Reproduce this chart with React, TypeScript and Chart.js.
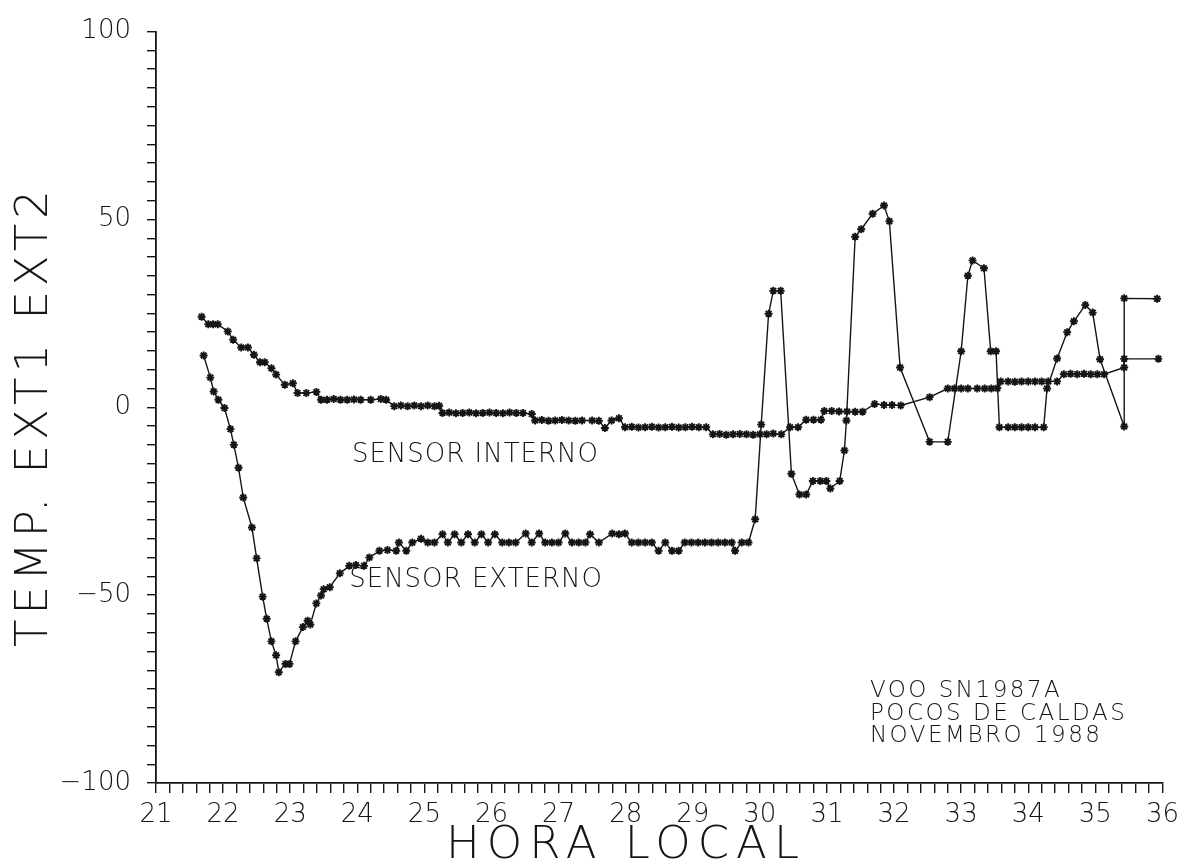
import React, { useEffect, useRef } from 'react';
import { Chart, registerables } from 'chart.js';

Chart.register(...registerables);

// ---- Data (hora local, temperatura) ----
const internoHours = [
  21.68, 21.78, 21.85, 21.92, 22.07, 22.15, 22.27, 22.37, 22.46, 22.55, 22.62, 22.72, 22.79, 22.92, 23.04,
  23.11, 23.24, 23.39, 23.46, 23.55, 23.65, 23.75, 23.85, 23.95, 24.05, 24.2, 24.35, 24.43, 24.55, 24.65,
  24.75, 24.85, 24.95, 25.05, 25.15, 25.22, 25.27, 25.37, 25.47, 25.57, 25.67, 25.77, 25.87, 25.97, 26.07,
  26.17, 26.27, 26.37, 26.47, 26.6, 26.65, 26.75, 26.85, 26.95, 27.05, 27.15, 27.25, 27.35, 27.5, 27.6,
  27.69, 27.79, 27.9, 27.99, 28.09, 28.19, 28.29, 28.39, 28.49, 28.59, 28.69, 28.79, 28.89, 28.99, 29.09,
  29.2, 29.3, 29.4, 29.5, 29.6, 29.7, 29.8, 29.9, 30.0, 30.1, 30.2, 30.32, 30.45, 30.57, 30.69,
  30.8, 30.91, 30.96, 31.07, 31.18, 31.3, 31.42, 31.53, 31.71, 31.85, 31.97, 32.1, 32.53, 32.8, 32.9,
  33.0, 33.1, 33.24, 33.35, 33.45, 33.54, 33.59, 33.7, 33.8, 33.9, 34.0, 34.1, 34.2, 34.3, 34.43,
  34.53, 34.63, 34.73, 34.83, 34.93, 35.03, 35.13, 35.43, 35.43, 35.94,
];
const internoTemps = [
  24.1, 22.1, 22.1, 22.1, 20.2, 18.0, 15.9, 15.9, 14.0, 12.0, 12.0, 10.4, 8.7, 6.0, 6.4,
  3.8, 3.8, 4.1, 2.0, 2.0, 2.2, 2.0, 2.0, 2.1, 2.0, 2.0, 2.2, 2.0, 0.3, 0.5,
  0.3, 0.5, 0.3, 0.5, 0.3, 0.4, -1.5, -1.4, -1.6, -1.5, -1.4, -1.6, -1.5, -1.4, -1.5,
  -1.6, -1.4, -1.5, -1.5, -1.8, -3.5, -3.4, -3.6, -3.5, -3.4, -3.5, -3.6, -3.5, -3.5, -3.6,
  -5.5, -3.5, -2.9, -5.3, -5.2, -5.4, -5.3, -5.2, -5.4, -5.3, -5.2, -5.4, -5.3, -5.2, -5.3,
  -5.3, -7.2, -7.1, -7.3, -7.2, -7.1, -7.2, -7.3, -7.2, -7.2, -7.0, -7.2, -5.3, -5.3, -3.3,
  -3.3, -3.3, -1.0, -1.0, -1.1, -1.1, -1.2, -1.2, 0.9, 0.6, 0.6, 0.5, 2.7, 5.0, 5.0,
  5.0, 5.0, 5.0, 5.0, 5.0, 5.1, 6.9, 6.9, 6.8, 6.9, 6.9, 6.9, 6.9, 6.9, 6.9,
  8.8, 8.9, 8.8, 8.9, 8.8, 8.8, 8.8, 10.6, 12.9, 12.9,
];

const externoHours = [
  21.71, 21.81, 21.86, 21.93, 22.02, 22.11, 22.16, 22.23, 22.3, 22.43, 22.5, 22.59, 22.65, 22.72, 22.79,
  22.83, 22.93, 22.99, 23.08, 23.19, 23.26, 23.3, 23.39, 23.46, 23.5, 23.59, 23.74, 23.88, 23.98, 24.1,
  24.18, 24.33, 24.45, 24.58, 24.62, 24.73, 24.82, 24.95, 25.05, 25.15, 25.27, 25.35, 25.45, 25.55, 25.65,
  25.75, 25.85, 25.95, 26.05, 26.16, 26.26, 26.36, 26.51, 26.6, 26.71, 26.8, 26.9, 27.0, 27.1, 27.2,
  27.3, 27.4, 27.47, 27.6, 27.8, 27.9, 27.99, 28.09, 28.19, 28.29, 28.39, 28.49, 28.59, 28.69, 28.79,
  28.88, 28.98, 29.08, 29.18, 29.28, 29.38, 29.48, 29.58, 29.63, 29.73, 29.83, 29.93, 30.02, 30.13, 30.2,
  30.31, 30.47, 30.59, 30.69, 30.79, 30.9, 30.99, 31.05, 31.19, 31.26, 31.29, 31.42, 31.51, 31.68, 31.85,
  31.93, 32.09, 32.53, 32.8, 33.0, 33.1, 33.17, 33.34, 33.44, 33.52, 33.57, 33.7, 33.8, 33.9, 34.0,
  34.1, 34.23, 34.28, 34.43, 34.58, 34.68, 34.85, 34.96, 35.07, 35.43, 35.43, 35.92,
];
const externoTemps = [
  13.8, 7.9, 4.2, 2.0, -0.2, -5.8, -10.0, -16.1, -24.0, -32.0, -40.2, -50.4, -56.3, -62.3, -66.0,
  -70.5, -68.3, -68.3, -62.3, -58.5, -56.8, -57.8, -52.2, -50.1, -48.4, -47.9, -44.2, -42.2, -42.0, -42.2,
  -40.0, -38.2, -38.0, -38.2, -36.0, -38.2, -36.0, -35.0, -36.0, -36.0, -33.8, -36.0, -33.8, -36.0, -33.8,
  -36.0, -33.8, -36.0, -33.8, -36.0, -36.0, -36.0, -33.6, -36.0, -33.6, -36.0, -36.0, -36.0, -33.6, -36.0,
  -36.0, -36.0, -33.8, -36.0, -33.6, -33.8, -33.6, -36.0, -36.0, -36.0, -36.0, -38.2, -36.0, -38.2, -38.2,
  -36.0, -36.0, -36.0, -36.0, -36.0, -36.0, -36.0, -36.0, -38.2, -36.0, -36.0, -29.8, -4.6, 24.9, 31.0,
  31.0, -17.7, -23.2, -23.2, -19.6, -19.6, -19.6, -21.6, -19.6, -11.5, -3.5, 45.4, 47.4, 51.5, 53.7,
  49.5, 10.6, -9.2, -9.2, 14.9, 35.0, 39.1, 37.0, 14.9, 14.9, -5.3, -5.3, -5.3, -5.3, -5.3,
  -5.3, -5.3, 5.0, 13.0, 20.0, 22.9, 27.2, 25.2, 12.8, -5.1, 29.0, 28.9,
];

const xMin = 21;
const xMax = 36;
const yMin = -100;
const yMax = 100;
const yLabelValues = [-100, -50, 0, 50, 100];

const xTitle = 'HORA LOCAL';
const yTitle = 'TEMP. EXT1 EXT2';
const labelInterno = 'SENSOR INTERNO';
const labelExterno = 'SENSOR EXTERNO';
const infoLines = ['VOO SN1987A', 'POCOS DE CALDAS', 'NOVEMBRO 1988'];

const FONT = "'DejaVu Sans', 'Liberation Sans', sans-serif";
const INK = '#151515';

function toPoints(xs: number[], ys: number[]) {
  return xs.map((x, i) => ({ x, y: ys[i] }));
}

const textPlugin = {
  id: 'textAnnotations',
  beforeDraw(chart: any) {
    const { ctx } = chart;
    ctx.save();
    ctx.fillStyle = '#ffffff';
    ctx.fillRect(0, 0, chart.width, chart.height);
    ctx.restore();
  },
  afterDraw(chart: any) {
    const { ctx } = chart;
    const xs = chart.scales.x;
    const ys = chart.scales.y;
    ctx.save();
    ctx.fillStyle = INK;
    ctx.textBaseline = 'middle';

    // in-plot labels
    ctx.textAlign = 'left';
    ctx.font = `300 26px ${FONT}`;
    (ctx as any).letterSpacing = '1px';
    ctx.fillText(labelInterno, xs.getPixelForValue(23.92), ys.getPixelForValue(-12.8));
    ctx.fillText(labelExterno, xs.getPixelForValue(23.88), ys.getPixelForValue(-46));

    ctx.font = `300 23px ${FONT}`;
    (ctx as any).letterSpacing = '2.5px';
    const lineYs = [-75.6, -81.6, -87.5];
    infoLines.forEach((t, i) => {
      ctx.fillText(t, xs.getPixelForValue(31.64), ys.getPixelForValue(lineYs[i]));
    });

    // axis titles
    ctx.textAlign = 'center';
    ctx.font = `300 45px ${FONT}`;
    (ctx as any).letterSpacing = '7px';
    ctx.fillText(xTitle, 626, 846);

    ctx.save();
    ctx.translate(35, 416);
    ctx.rotate(-Math.PI / 2);
    (ctx as any).letterSpacing = '5px';
    ctx.fillText(yTitle, 0, 0);
    ctx.restore();

    ctx.restore();
  },
};

export default function App() {
  const canvasRef = useRef<HTMLCanvasElement | null>(null);

  useEffect(() => {
    if (!canvasRef.current) return;
    const chart = new Chart(canvasRef.current, {
      type: 'scatter',
      data: {
        datasets: [
          {
            label: labelInterno,
            data: toPoints(internoHours, internoTemps),
            showLine: true,
          },
          {
            label: labelExterno,
            data: toPoints(externoHours, externoTemps),
            showLine: true,
          },
        ],
      },
      options: {
        responsive: false,
        animation: false,
        events: [],
        layout: { padding: { top: 29, right: 23, left: 0, bottom: 0 } },
        elements: {
          point: {
            pointStyle: 'star',
            radius: 4,
            borderWidth: 1.9,
            borderColor: INK,
            backgroundColor: INK,
          },
          line: {
            borderColor: INK,
            borderWidth: 1.4,
            tension: 0,
            fill: false,
          },
        },
        plugins: {
          legend: { display: false },
          tooltip: { enabled: false },
        },
        scales: {
          x: {
            type: 'linear',
            position: 'bottom',
            min: xMin,
            max: xMax,
            afterFit: (s: any) => {
              s.height = 85;
            },
            ticks: {
              stepSize: 0.2,
              autoSkip: false,
              maxRotation: 0,
              minRotation: 0,
              padding: 7,
              color: INK,
              font: { family: FONT, size: 26, weight: '300' as any },
              callback: (v: any) => {
                const n = Number(v);
                return Math.abs(n - Math.round(n)) < 1e-6 ? String(Math.round(n)) : '';
              },
            },
            grid: {
              drawOnChartArea: false,
              drawTicks: true,
              tickLength: 10,
              color: INK,
              lineWidth: 1.4,
            },
            border: { display: true, color: INK, width: 1.8 },
            title: { display: false },
          },
          y: {
            type: 'linear',
            min: yMin,
            max: yMax,
            afterFit: (s: any) => {
              s.width = 156;
            },
            ticks: {
              stepSize: 5,
              autoSkip: false,
              padding: 16,
              color: INK,
              font: { family: FONT, size: 26, weight: '300' as any },
              callback: (v: any) => {
                const n = Math.round(Number(v));
                if (!yLabelValues.includes(n)) return '';
                return n < 0 ? '\u2212' + Math.abs(n) : String(n);
              },
            },
            grid: {
              drawOnChartArea: false,
              drawTicks: true,
              tickLength: 9,
              color: INK,
              lineWidth: 1.4,
            },
            border: { display: true, color: INK, width: 1.8 },
            title: { display: false },
          },
        },
      },
      plugins: [textPlugin],
    });
    return () => chart.destroy();
  }, []);

  return (
    <div style={{ position: 'fixed', left: 0, top: 0, width: 1186, height: 868, background: '#fff' }}>
      <canvas ref={canvasRef} width={1186} height={868} style={{ display: 'block' }} />
    </div>
  );
}
